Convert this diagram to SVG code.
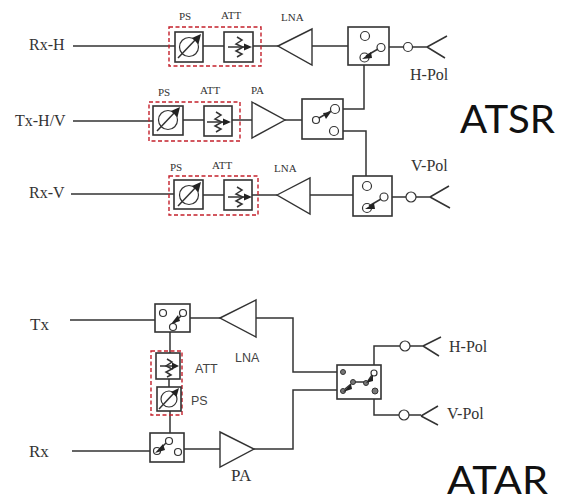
<svg xmlns="http://www.w3.org/2000/svg" width="567" height="502" viewBox="0 0 567 502">
<style>
.l{fill:none;stroke:#333;stroke-width:1.5}
.b{fill:#fff;stroke:#333;stroke-width:1.6}
.c{fill:#fff;stroke:#333;stroke-width:1.2}
.t{fill:#fff;stroke:#333;stroke-width:1.4}
.r{fill:none;stroke:#c4202b;stroke-width:1.4;stroke-dasharray:4 2.5}
.a{fill:#222;stroke:none}
.s{font-family:"Liberation Serif",serif;fill:#333}
.m{font-size:16px}
.x{font-size:11px}
.n{font-family:"Liberation Sans",sans-serif;fill:#444;font-size:12.500px}
.h{font-family:Lato,sans-serif;fill:#111;font-size:38px}
</style>
<defs>
<g id="ps">
<circle class="c" cx="0" cy="0" r="9.5"/>
<path class="l" d="M-11 11L8 -9"/><path class="a" d="M12 -13L9.5 -3L3 -9Z"/>
</g>
<g id="att">
<path class="l" d="M-2 -10L3 -7L-3 -3L4 0L-3 4L3 7L-2 10"/>
<path class="l" d="M-11 0H7"/><path class="a" d="M13 0L5 -3.5V3.5Z"/>
</g>
</defs>
<g id="connectors">
<path class="l" d="M73 46H175M203 46H224M253 46H278M312 46H348M389 47H403M413 47H427M427 47L447 36M427 47L445 58"/>
<path class="l" d="M73 121H153M183 120H204M232 120H252M285 120H302M343 109H364V65M343 131H366V176"/>
<path class="l" d="M71 194H174M203 195H224M252 195H277M310 195H353M392 197H406M416 197H430M430 197L449 186M430 197L450 208"/>
<path class="l" d="M70 320H155M190 318H220M256 318H293V372H337M170 332V353M169 379V387M170 411V433M72 451H150M184 449H220M254 449H293V390H337"/>
<path class="l" d="M374 365V346H400M410 346H423M423 346L441 337M423 346L439 356M374 399V415H399M409 415H421M421 416L438 406M421 416L438 425"/>
</g>
<g id="rxh-ps-att">
<rect class="r" x="169" y="27" width="92" height="39"/>
<rect class="b" x="175" y="32" width="28" height="30"/><use href="#ps" x="189" y="47"/>
<rect class="b" x="224" y="32" width="29" height="30"/><use href="#att" x="239" y="47"/>
<text class="s x" x="179" y="20">PS</text><text class="s x" x="221" y="19">ATT</text>
</g>
<g id="txhv-ps-att">
<rect class="r" x="149" y="102" width="91" height="39"/>
<rect class="b" x="153" y="106" width="30" height="29"/><use href="#ps" x="168" y="120"/>
<rect class="b" x="204" y="106" width="28" height="30"/><use href="#att" x="218" y="122"/>
<text class="s x" x="158" y="96">PS</text><text class="s x" x="200" y="94">ATT</text>
</g>
<g id="rxv-ps-att">
<rect class="r" x="169" y="176" width="89" height="39"/>
<rect class="b" x="174" y="180" width="29" height="29"/><use href="#ps" x="189" y="195"/>
<rect class="b" x="224" y="180" width="28" height="30"/><use href="#att" x="239" y="197"/>
<text class="s x" x="170" y="171">PS</text><text class="s x" x="212" y="169">ATT</text>
</g>
<g id="lna-h"><path class="t" d="M278 46L312 29V65Z"/><text class="s x" x="281" y="21">LNA</text></g>
<g id="pa-tx"><path class="t" d="M252 102L285 120L252 138Z"/><text class="s x" x="251" y="94">PA</text></g>
<g id="lna-v"><path class="t" d="M277 195L310 178V214Z"/><text class="s x" x="274" y="172">LNA</text></g>
<g id="switch-h">
<rect class="b" x="348" y="27" width="41" height="38"/>
<circle class="c" cx="365" cy="36" r="4.5"/><circle class="c" cx="381" cy="47.5" r="4"/><circle class="c" cx="364.5" cy="57.5" r="4.5"/>
<path class="l" d="M366 56L378 49"/><path class="a" d="M362 59L371 52L372 58Z"/>
</g>
<g id="switch-tx">
<rect class="b" x="302" y="99" width="41" height="40"/>
<circle class="c" cx="316" cy="120" r="3.5"/><circle class="c" cx="335" cy="109" r="4.5"/><circle class="c" cx="334" cy="131" r="4.5"/>
<path class="l" d="M319 118L331 111"/><path class="a" d="M331 112L323 113L326 119Z"/>
</g>
<g id="switch-v">
<rect class="b" x="353" y="176" width="39" height="40"/>
<circle class="c" cx="367" cy="186" r="4.5"/><circle class="c" cx="384" cy="197" r="4"/><circle class="c" cx="367" cy="208" r="4.5"/>
<path class="l" d="M369 206L381 199"/><path class="a" d="M365 209L374 203L375 209Z"/>
</g>
<g id="ant-h"><circle class="c" cx="408" cy="47" r="4.5"/><text class="s m" x="410" y="80">H-Pol</text></g>
<g id="ant-v"><circle class="c" cx="411" cy="197" r="5"/><text class="s m" x="411" y="171">V-Pol</text></g>
<g id="labels-top">
<text class="s m" x="29" y="50">Rx-H</text>
<text class="s m" x="15" y="126">Tx-H/V</text>
<text class="s m" x="29" y="198">Rx-V</text>
<text class="h" x="460" y="133" textLength="95" lengthAdjust="spacingAndGlyphs">ATSR</text>
</g>
<g id="switch-tx2">
<rect class="b" x="155" y="304" width="35" height="28"/>
<circle class="c" cx="163" cy="313" r="3.5"/><circle class="c" cx="183" cy="313" r="3.5"/><circle class="c" cx="173" cy="327" r="3.5"/>
<path class="l" d="M174 323L181 316"/><path class="a" d="M171 324L178 315L180 321Z"/>
</g>
<g id="lna-bottom"><path class="t" d="M220 318L256 300V337Z"/><text class="n" x="235" y="362">LNA</text></g>
<g id="att-ps-vertical">
<rect class="r" x="151" y="351" width="31" height="64"/>
<rect class="b" x="156" y="353" width="24" height="26"/>
<path class="l" d="M167 359L172 362L166 366L172 369L166 372L171 375L167 377"/><path class="l" d="M160 366H174"/><path class="a" d="M179 366L172 362.500V369.500Z"/>
<rect class="b" x="157" y="387" width="24" height="24"/>
<circle class="c" cx="169" cy="399" r="8"/><path class="l" d="M159 409L175 392"/><path class="a" d="M179 388L176.500 397L171 392Z"/>
<text class="n" x="195" y="373">ATT</text><text class="n" x="191" y="405">PS</text>
</g>
<g id="switch-rx2">
<rect class="b" x="150" y="433" width="34" height="29"/>
<circle class="c" cx="157" cy="451" r="3.500"/><circle class="c" cx="169" cy="441" r="3.500"/><circle class="c" cx="178" cy="452" r="3.500"/>
<path class="l" d="M160 449L166 443"/><path class="a" d="M155 453L163 444L165 450Z"/>
</g>
<g id="pa-bottom"><path class="t" d="M220 432L254 449L220 467Z"/><text class="s" x="231" y="481" font-size="17">PA</text></g>
<g id="switch-dpdt">
<rect class="b" x="337" y="365" width="44" height="34"/>
<g fill="#777" stroke="#333" stroke-width="1"><circle cx="343" cy="372" r="2.500"/><circle cx="343" cy="391" r="2.500"/><circle cx="353" cy="382" r="2.500"/><circle cx="366" cy="383" r="2.500"/></g>
<circle class="c" cx="374" cy="373" r="3"/><circle cx="375" cy="391" r="3" fill="#777" stroke="#333"/>
<path class="l" d="M345 389L351 384M355 382H364M368 381L372 375"/><path class="a" d="M343 392L351 384L352 389Z"/><path class="a" d="M366 383L373 375L373 381Z"/>
</g>
<g id="ant-h2"><circle class="c" cx="405" cy="346" r="5"/><text class="s m" x="449" y="352">H-Pol</text></g>
<g id="ant-v2"><circle class="c" cx="404" cy="415" r="5"/><text class="s m" x="447" y="419">V-Pol</text></g>
<g id="labels-bottom">
<text class="s" x="30" y="330" font-size="17">Tx</text>
<text class="s" x="29" y="457" font-size="17">Rx</text>
<text class="h" x="447" y="493.500" textLength="101" lengthAdjust="spacingAndGlyphs">ATAR</text>
</g>
</svg>
